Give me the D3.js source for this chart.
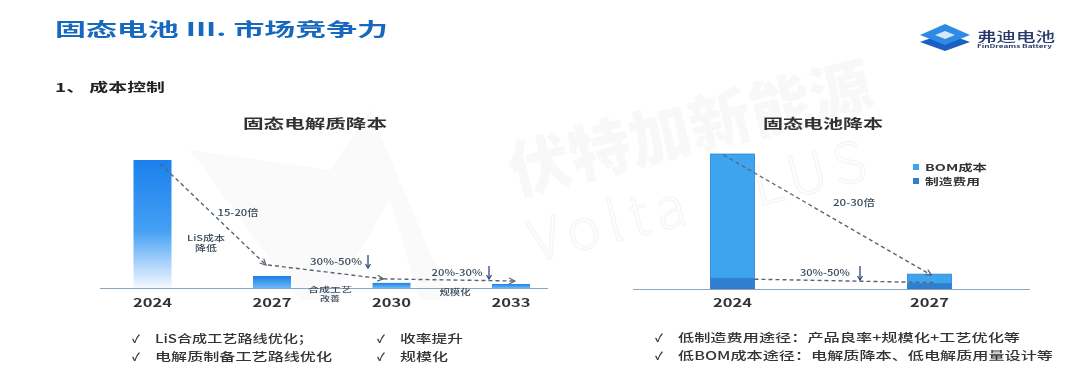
<!DOCTYPE html>
<html><head><meta charset="utf-8">
<script src="https://cdn.jsdelivr.net/npm/d3@7"></script>
<style>
body{margin:0;background:#fff;}
svg{display:block;font-family:"Noto Sans CJK SC","Noto Sans",sans-serif;}
</style></head>
<body><svg id="c" width="1080" height="391"></svg>
<script>
// ---- data ----
const leftYears = ["2024","2027","2030","2033"];
const leftCost = [100, 9.4, 4, 3.1];
const rightYears = ["2024","2027"];
const mfgCost = [8, 4];
const bomCost = [92, 7];
const legendLabels = ["BOM成本","制造费用"];
const leftNotes = ["15-20倍","30%-50%","20%-30%"];
const leftDrivers = [["LiS成本","降低"],["合成工艺","改善"],["规模化"]];
const rightNotes = ["20-30倍","30%-50%"];
const leftBullets = [["LiS合成工艺路线优化；","电解质制备工艺路线优化"],["收率提升","规模化"]];
const rightBullets = ["低制造费用途径：产品良率+规模化+工艺优化等","低BOM成本途径：电解质降本、低电解质用量设计等"];

const svg = d3.select("#c");
const defs = svg.append("defs");
const grad = defs.append("linearGradient").attr("id","lg").attr("x1",0).attr("y1",0).attr("x2",0).attr("y2",1);
grad.append("stop").attr("offset","0%").attr("stop-color","#1a80ee");
grad.append("stop").attr("offset","55%").attr("stop-color","#45a0f4");
grad.append("stop").attr("offset","100%").attr("stop-color","#f4f9ff");
const grad2 = defs.append("linearGradient").attr("id","lg2").attr("x1",0).attr("y1",0).attr("x2",0).attr("y2",1);
grad2.append("stop").attr("offset","0%").attr("stop-color","#1a7fe6");
grad2.append("stop").attr("offset","100%").attr("stop-color","#6cb8f6");
defs.append("marker").attr("id","ah").attr("viewBox","0 0 8 8").attr("refX",7).attr("refY",4)
  .attr("markerWidth",8).attr("markerHeight",8).attr("markerUnits","userSpaceOnUse").attr("orient","auto")
  .append("path").attr("d","M1,1 L7,4 L1,7").attr("fill","none").attr("stroke","#5a6470").attr("stroke-width",1.2);

// text helper: fixed width via textLength (source image is horizontally stretched)
function T(g, x, y, t, o){
  o = o||{};
  const e = g.append("text").attr("x",x).attr("y",y).text(t)
    .attr("font-size",o.size||9).attr("font-weight",o.weight||500).attr("fill",o.fill||"#3a4a5a")
    .attr("text-anchor",o.anchor||"start");
  if(o.width){ e.attr("textLength",o.width).attr("lengthAdjust","spacingAndGlyphs"); }
  return e;
}

// ---- watermark ----
const wm = svg.append("g").attr("opacity",0.35);
wm.append("path").attr("d","M190,150 L300,300 L330,300 L390,200 L420,300 L450,300 L370,110 L330,170 Z").attr("fill","#f0f0f0");
wm.append("text").attr("transform","translate(515,195) rotate(-14)").attr("font-size",62).attr("font-weight",900)
  .attr("fill","#ebebeb").text("伏特加新能源");
wm.append("text").attr("transform","translate(535,262) rotate(-14)").attr("font-size",56).attr("font-weight",300)
  .attr("fill","none").attr("stroke","#e6e6e6").attr("stroke-width",1.5).attr("letter-spacing",8).text("Volta PLUS");

// ---- header ----
T(svg,55,36,"固态电池 III. 市场竞争力",{size:18,weight:700,fill:"#1769c0",width:333});
T(svg,55,92,"1、 成本控制",{size:12,weight:700,fill:"#222",width:110});
// logo
const lg = svg.append("g");
lg.append("path").attr("d","M920,42 L945,33 L970,42 L945,51 Z").attr("fill","#1a5fc4");
lg.append("path").attr("d","M920,35 L945,24 L970,35 L945,45 Z").attr("fill","#2f8ae6");
lg.append("path").attr("d","M935,35 L945,31 L955,35 L945,39 Z").attr("fill","#fff").attr("opacity",0.8);
T(lg,977,41,"弗迪电池",{size:13,fill:"#2a3a6a",weight:500,width:78});
T(lg,977,48,"FinDreams Battery",{size:4.5,fill:"#2a3a6a",weight:700,width:75});

// ---- left chart ----
const L = svg.append("g");
const xl = d3.scalePoint().domain(leftYears).range([152.5, 511]);
const yl = d3.scaleLinear().domain([0,100]).range([288,160]);
const bwl = 38;
T(L,315,128,"固态电解质降本",{size:13,weight:700,fill:"#333",anchor:"middle",width:144});
L.selectAll("rect.b").data(leftYears).join("rect")
  .attr("x",d=>xl(d)-bwl/2).attr("width",bwl)
  .attr("y",(d,i)=>yl(leftCost[i])).attr("height",(d,i)=>yl(0)-yl(leftCost[i]))
  .attr("fill",(d,i)=>i===0?"url(#lg)":"url(#lg2)");
L.append("line").attr("x1",100).attr("x2",548).attr("y1",288.5).attr("y2",288.5).attr("stroke","#8aa6bf").attr("stroke-width",1);
leftYears.forEach(d=>T(L,xl(d),307,d,{size:11.5,weight:700,fill:"#333",anchor:"middle",width:39}));
// dashed trend arrows
const p0=[xl("2024")+8, yl(leftCost[0])+4];
const p1=[xl("2027")-6, yl(leftCost[1])-11];
const p2=[xl("2030")-8, yl(leftCost[2])-4];
const p3=[xl("2033")+4, yl(leftCost[3])-3];
[[p0,p1],[[p1[0]+2,p1[1]],p2],[p2,p3]].forEach(s=>{
  L.append("line").attr("x1",s[0][0]).attr("y1",s[0][1]).attr("x2",s[1][0]).attr("y2",s[1][1])
    .attr("stroke","#5a6470").attr("stroke-width",1.4).attr("stroke-dasharray","4,3").attr("marker-end","url(#ah)");
});
T(L,238,216,leftNotes[0],{anchor:"middle",width:41});
T(L,206,241,leftDrivers[0][0],{size:8,anchor:"middle",width:38});
T(L,206,250.5,leftDrivers[0][1],{size:8,anchor:"middle",width:22});
T(L,336,265,leftNotes[1],{anchor:"middle",width:52});
T(L,457,276,leftNotes[2],{anchor:"middle",width:51});
T(L,330,291.5,leftDrivers[1][0],{size:7,anchor:"middle",width:44});
T(L,330,300.5,leftDrivers[1][1],{size:7,anchor:"middle",width:20});
T(L,455,295,leftDrivers[2][0],{size:8,anchor:"middle",width:31});
function downArrow(g,x,y1,y2){
  g.append("line").attr("x1",x).attr("x2",x).attr("y1",y1).attr("y2",y2).attr("stroke","#2a4a7a").attr("stroke-width",1.3);
  g.append("path").attr("d",`M${x-2.5},${y2-4} L${x},${y2} L${x+2.5},${y2-4}`).attr("fill","none").attr("stroke","#2a4a7a").attr("stroke-width",1.2);
}
downArrow(L,368,255,268);
downArrow(L,489,266,279);

// ---- right chart ----
const R = svg.append("g");
const xr = d3.scalePoint().domain(rightYears).range([732.5, 929.5]);
const yr = d3.scaleLinear().domain([0,100]).range([289,154]);
const bwr = 44;
T(R,823,128,"固态电池降本",{size:13,weight:700,fill:"#333",anchor:"middle",width:120});
R.selectAll("rect.m").data(rightYears).join("rect")
  .attr("x",d=>xr(d)-bwr/2).attr("width",bwr)
  .attr("y",(d,i)=>yr(mfgCost[i])).attr("height",(d,i)=>yr(0)-yr(mfgCost[i]))
  .attr("fill","#2f7fd0").attr("stroke","#2a78c8").attr("stroke-width",0.8);
R.selectAll("rect.bo").data(rightYears).join("rect")
  .attr("x",d=>xr(d)-bwr/2).attr("width",bwr)
  .attr("y",(d,i)=>yr(mfgCost[i]+bomCost[i])).attr("height",(d,i)=>yr(mfgCost[i])-yr(mfgCost[i]+bomCost[i]))
  .attr("fill","#3fa4ee").attr("stroke","#2a82d8").attr("stroke-width",0.8);
R.append("line").attr("x1",633).attr("x2",1030).attr("y1",289.5).attr("y2",289.5).attr("stroke","#8aa6bf").attr("stroke-width",1);
rightYears.forEach(d=>T(R,xr(d),307,d,{size:11.5,weight:700,fill:"#333",anchor:"middle",width:39}));
R.append("line").attr("x1",xr("2024")-9).attr("y1",yr(100)+1).attr("x2",xr("2027")+2).attr("y2",yr(mfgCost[1]+bomCost[1])+1)
  .attr("stroke","#5a6470").attr("stroke-width",1.4).attr("stroke-dasharray","4,3").attr("marker-end","url(#ah)");
R.append("line").attr("x1",xr("2024")+bwr/2).attr("y1",yr(mfgCost[0])+1).attr("x2",xr("2027")+4).attr("y2",yr(mfgCost[1])-1)
  .attr("stroke","#5a6470").attr("stroke-width",1.4).attr("stroke-dasharray","4,3");
T(R,854,206,rightNotes[0],{anchor:"middle",width:42});
T(R,825,276,rightNotes[1],{anchor:"middle",width:50});
downArrow(R,860,266,280);
// legend
const leg = R.append("g");
leg.selectAll("rect").data(legendLabels).join("rect").attr("x",913).attr("y",(d,i)=>164+i*14).attr("width",6).attr("height",6)
  .attr("fill",(d,i)=>i?"#2f7fd0":"#3fa4ee");
legendLabels.forEach((d,i)=>T(leg,925,171+i*14,d,{size:9.5,weight:700,fill:"#333",width:i?55:62}));

// ---- bullets ----
const bs = svg.append("g");
const lbW = [[158,177],[63,48]];
leftBullets.forEach((col,ci)=>{
  col.forEach((t,ri)=>{
    const cx = ci?377:132, tx = ci?400:155, y = 343+ri*18;
    T(bs,cx,y,"✓",{size:11,weight:700,fill:"#333"});
    T(bs,tx,y,t,{size:11.5,weight:500,fill:"#333",width:lbW[ci][ri]});
  });
});
const rbW = [342,375];
rightBullets.forEach((t,ri)=>{
  const y = 342+ri*18;
  T(bs,655,y,"✓",{size:11,weight:700,fill:"#333"});
  T(bs,678,y,t,{size:11.5,weight:500,fill:"#333",width:rbW[ri]});
});
</script></body></html>
